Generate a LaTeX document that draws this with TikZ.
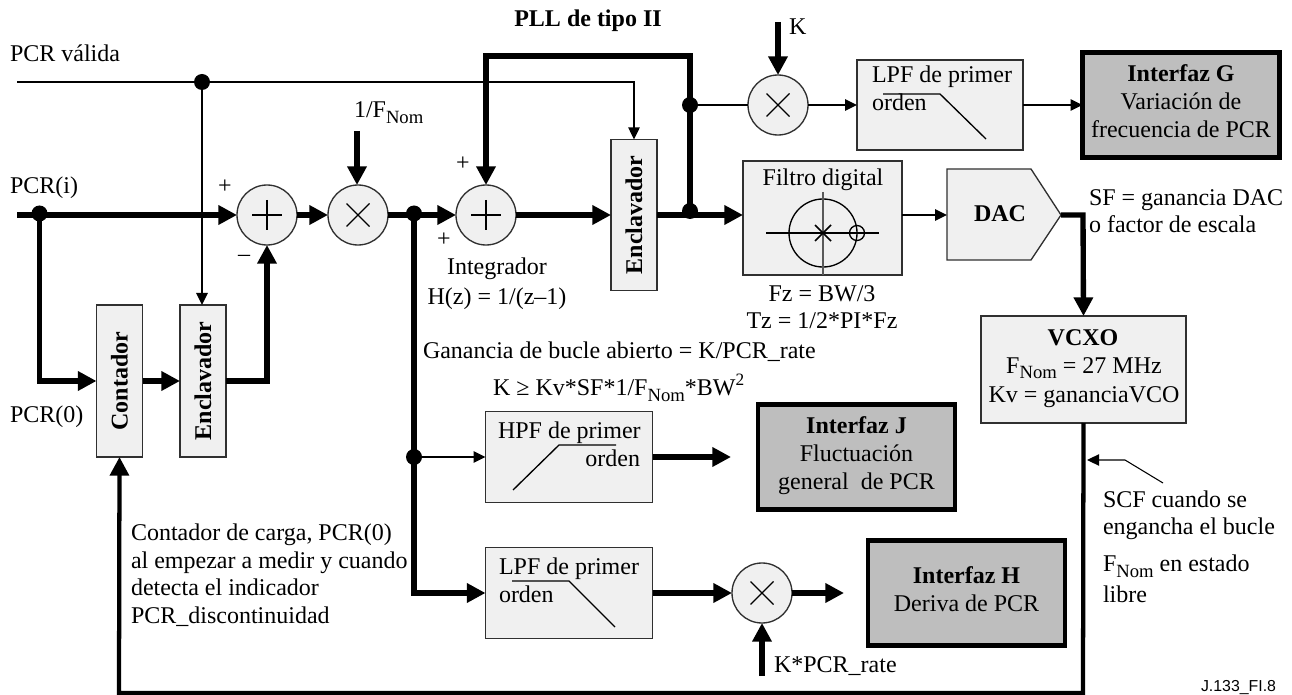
\documentclass[tikz,border=0pt]{standalone}
\usepackage{fontspec}
\setmainfont{Liberation Serif}
\usetikzlibrary{arrows.meta,calc}
\newcommand\Nom{\raisebox{-4.5pt}{\fontsize{14}{15}\selectfont Nom}}
\newcommand\supii{\raisebox{7.5pt}{\fontsize{13}{14}\selectfont 2}}
\newcommand\mainsize{\fontsize{18}{21}\selectfont}
\definecolor{boxfill}{HTML}{F0F0F0}
\definecolor{ifill}{HTML}{BEBEBE}
\definecolor{edge}{HTML}{303030}
\tikzset{
  x=0.75pt,y=-0.75pt,
  wh/.style 2 args={minimum width=#1*0.75pt,minimum height=#2*0.75pt},
  every node/.style={inner sep=0pt,outer sep=0pt},
  txt/.style={anchor=base west},
  ctxt/.style={anchor=base},
  boldtxt/.style={font=\mainsize\bfseries},
  bluebox/.style={draw=edge,fill=boxfill,line width=1pt},
  sbox/.style={bluebox,rectangle},
  vtext/.style={boldtxt,rotate=90},
  ibox/.style={draw=black,fill=ifill,line width=3.4pt},
  itxt/.style={align=center},
  op/.style={bluebox,circle,minimum size=60*0.75pt},
  joint/.style={circle,fill=black,minimum size=16*0.75pt},
  thin line/.style={line width=1.4pt,-{Triangle[length=9pt,width=8.5pt]}},
  hair line/.style={line width=1pt,-{Triangle[length=9pt,width=8.5pt]}},
  thin plain/.style={line width=1pt},
  mid plain/.style={line width=1.4pt},
  heavy/.style={line width=4pt,-{Triangle[length=14pt,width=14pt]}},
  feed/.style={line width=3.2pt,-{Triangle[length=14pt,width=14pt]}},
  loop/.style={line width=4.5pt,-{Triangle[length=14pt,width=14pt]},line join=miter},
  sym/.style={line width=1pt},
}
\newcommand\plusin[1]{\draw[sym] ($(#1)+(-15,0)$) -- ($(#1)+(15,0)$) ($(#1)+(0,-15)$) -- ($(#1)+(0,15)$);}
\newcommand\crossin[1]{\draw[sym] ($(#1)+(-11.5,-11.5)$) -- ($(#1)+(11.5,11.5)$) ($(#1)+(-11.5,11.5)$) -- ($(#1)+(11.5,-11.5)$);}
\begin{document}
\begin{tikzpicture}[font=\mainsize]
\path[use as bounding box,fill=white] (0,0) rectangle (1292,695);
% operators and boxes
\node[op] (sumA) at (267,215) {};
\node[op] (mulA) at (358,215) {};
\node[op] (sumB) at (486,215) {};
\node[op] (mulK) at (778,105) {};
\node[op] (mulH) at (762,593) {};
\plusin{sumA}\crossin{mulA}\plusin{sumB}\crossin{mulK}\crossin{mulH}
\node[sbox,wh={46}{152}] (cont) at (119.5,381) {};
\node[vtext] (contT) at (cont.center) {Contador};
\node[sbox,wh={46}{152}] (encA) at (203,381) {};
\node[vtext] (encAT) at (encA.center) {Enclavador};
\node[sbox,wh={46}{151}] (encB) at (634,215) {};
\node[vtext] (encBT) at (encB.center) {Enclavador};
\node[sbox,wh={159}{114}] (filt) at (822.5,218) {};
\node[sbox,wh={166}{90}] (lpfG) at (940,105) {};
\node[sbox,wh={167}{91}] (hpf) at (569,457) {};
\node[sbox,wh={167}{91}] (lpfH) at (569,593) {};
\node[sbox,wh={205}{107}] (vcxo) at (1083.5,369.5) {};
\node[ibox,wh={197}{105}] (ifG) at (1181,105) {};
\node[itxt] (ifGT) at (1181,101) {\textbf{Interfaz G}\\Variación de\\frecuencia de PCR};
\node[ibox,wh={197}{105}] (ifJ) at (856.5,457) {};
\node[itxt] (ifJT) at (856.5,456) {\textbf{Interfaz J}\\Fluctuación\\general\ \ de PCR};
\node[ibox,wh={197}{105}] (ifH) at (966.5,593) {};
\node[itxt] (ifHT) at (966.5,589) {\textbf{Interfaz H}\\Deriva de PCR};
% DAC
\draw[bluebox] (947,169) -- (1031,169) -- (1061,215) -- (1031,260) -- (947,260) -- cycle;
\coordinate (dacW) at (947,215);
\coordinate (dacE) at (1061,215);
\node[ctxt,boldtxt] (dacT) at (1000,222) {DAC};
% junctions
\node[joint] (dV) at (202,82) {};
\node[joint] (dI) at (39.5,213.5) {};
\node[joint] (dM) at (414,213.5) {};
\node[joint] (dF) at (414,457) {};
\node[joint] (dO) at (690,211) {};
\node[joint] (dT) at (690,105) {};
% free ends and bends
\coordinate (vS) at (17,82);
\coordinate (iS) at (17,215);
\coordinate (nomS) at (357,131);
\coordinate (kS) at (778,22);
\coordinate (kpS) at (762,676);
\coordinate (tL) at (486,56);
\coordinate (tR) at (690,56);
\coordinate (fbB) at (119,693);
\coordinate (fbR) at (1083,693);
\coordinate (dacB) at (1083,215);
\coordinate (cTip) at (1087,460);
\coordinate (cM) at (1125,460);
\coordinate (cE) at (1163,483);
\coordinate (jIn) at (731,457);
\coordinate (hIn) at (844,593);
% thin connectors
\draw[thin plain] (vS) -- (dV);
\draw[thin line] (dV) -- (encA.north -| dV);
\draw[hair line] (dV) -| (encB.north);
\draw[mid plain] (dT) -- (mulK);
\draw[thin line] (mulK) -- (lpfG.west);
\draw[thin line] (lpfG.east) -- (ifG.west);
\draw[thin line] (filt.east |- encB.east) -- (dacW);
\draw[thin line] (dF) -- (hpf.west);
\draw[line width=.8pt,-{Triangle[length=9pt,width=8.5pt]}] (cE) -- (cM) -- (cTip);
% heavy connectors
\draw[heavy] (iS) -- (sumA.west);
\draw[heavy] (dI) |- (cont.west);
\draw[heavy] (cont.east) -- (encA.west);
\draw[heavy] (encA.east) -| (sumA.south);
\draw[heavy] (sumA.east) -- (mulA.west);
\draw[heavy] (nomS) -- (mulA.north -| nomS);
\draw[heavy] (mulA.east) -- (sumB.west);
\draw[heavy] (sumB.east) -- (encB.west);
\draw[heavy] (encB.east) -- (filt.west |- encB.east);
\draw[loop] (dO.center) -- (tR) -- (tL) -- (sumB.north);
\draw[heavy] (kS) -- (mulK.north);
\draw[heavy,line join=miter] (dacE) -- (dacB) -- (vcxo.north);
\draw[heavy] (dM) |- (lpfH.west);
\draw[heavy] (hpf.east) -- (jIn);
\draw[heavy] (lpfH.east) -- (mulH.west);
\draw[heavy] (mulH.east) -- (hIn);
\draw[heavy] (kpS) -- (mulH.south);
\draw[feed,line join=miter] (vcxo.south) -- (fbR) -- (fbB) -- (cont.south);
% filter shapes
\coordinate (fO) at (823,233);
\node[draw=black,line width=1pt,circle,minimum size=68*0.75pt] (pole) at (fO) {};
\node[draw=black,line width=1pt,circle,minimum size=15*0.75pt] (zero) at (857,233) {};
\draw[line width=.9pt] (766,233) -- (879,233);
\draw[line width=.9pt,draw=edge!80] (823,192) -- (823,275);
\draw[line width=1.1pt] (815,225) -- (831,241) (815,241) -- (831,225);
\draw[line width=1pt] (883,94) -- (940,94) -- (986,139);
\draw[line width=1pt] (512,581) -- (569,581) -- (615,627);
\draw[line width=1pt] (513,490) -- (559,445) -- (616,445);
% labels
\node[txt] (l1) at (10,62) {PCR válida};
\node[txt] (l2) at (10,194) {PCR(i)};
\node[txt] (l3) at (10,422) {PCR(0)};
\node[txt] (l4) at (354,118) {1/F\Nom};
\node[ctxt] (l5) at (225,194) {+};
\node[ctxt] (l6) at (244,262) {–};
\node[ctxt] (l7) at (444,247) {+};
\node[ctxt] (l8) at (463,171) {+};
\node[ctxt,boldtxt] (l9) at (588,27) {PLL de tipo II};
\node[txt] (l10) at (789,35) {K};
\node[ctxt] (l11) at (497,275) {Integrador};
\node[ctxt] (l12) at (497,305) {H(z) = 1/(z–1)};
\node[ctxt] (l13) at (822,301) {Fz = BW/3};
\node[ctxt] (l14) at (822,329) {Tz = 1/2*PI*Fz};
\node[ctxt] (l15) at (823,186) {Filtro digital};
\node[txt] (l16) at (423,358) {Ganancia de bucle abierto = K/PCR\_rate};
\node[txt] (l17) at (493,395) {K ≥ Kv*SF*1/F\Nom*BW\supii};
\node[txt] (l18) at (498,438) {HPF de primer};
\node[anchor=base east] (l19) at (640,466) {orden};
\node[txt] (l20) at (499,574) {LPF de primer};
\node[txt] (l21) at (499,602) {orden};
\node[txt] (l22) at (872,83) {LPF de primer};
\node[txt] (l23) at (872,111) {orden};
\node[txt] (l24) at (1089,206) {SF = ganancia DAC};
\node[txt] (l25) at (1089,233) {o factor de escala};
\node[ctxt,boldtxt] (l26) at (1083,345) {VCXO};
\node[ctxt] (l27) at (1084,373) {F\Nom{} = 27 MHz};
\node[ctxt] (l28) at (1084,402) {Kv = gananciaVCO};
\node[txt] (l29) at (1103,507) {SCF cuando se};
\node[txt] (l30) at (1103,534) {engancha el bucle};
\node[txt] (l31) at (1103,571) {F\Nom{} en estado};
\node[txt] (l32) at (1103,602) {libre};
\node[txt] (l33) at (131,540) {Contador de carga, PCR(0)};
\node[txt] (l34) at (131,568) {al empezar a medir y cuando};
\node[txt] (l35) at (131,595) {detecta el indicador};
\node[txt] (l36) at (131,623) {PCR\_discontinuidad};
\node[txt] (l37) at (774,672) {K*PCR\_rate};
\node[txt,font=\fontspec{Liberation Sans}\fontsize{11.9}{13}\selectfont] (l38) at (1201,691) {J.133\_FI.8};
\end{tikzpicture}
\end{document}
